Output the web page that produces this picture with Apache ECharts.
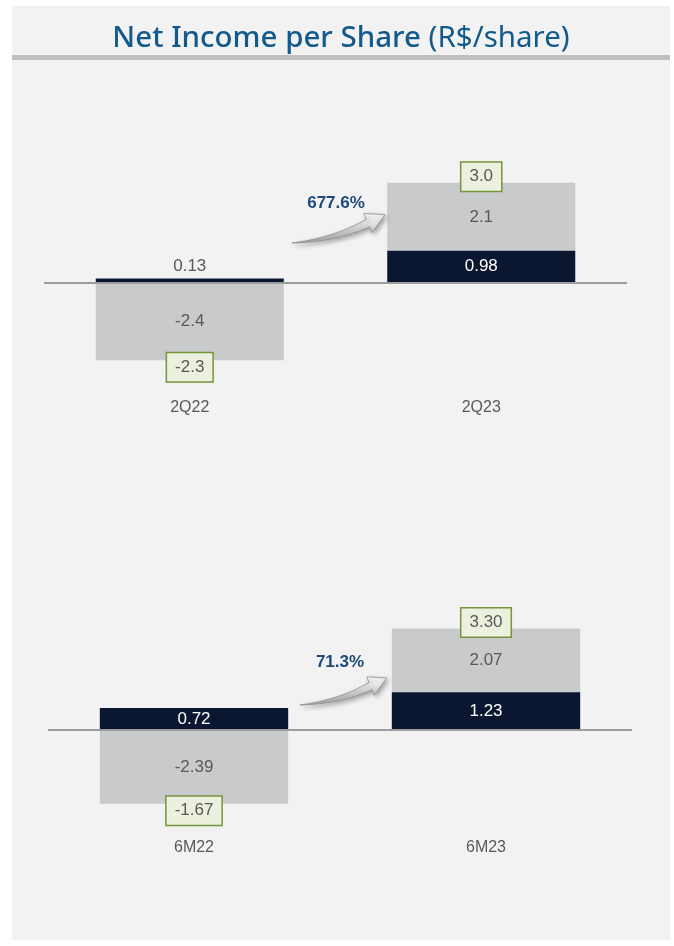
<!DOCTYPE html>
<html>
<head>
<meta charset="utf-8">
<script src="https://cdn.jsdelivr.net/npm/echarts@6/dist/echarts.min.js"></script>
<style>
  html, body { margin: 0; padding: 0; background: #ffffff; }
  #panel { position: absolute; left: 12px; top: 6px; width: 658px; height: 934px; background: #f2f2f2; }
  #main { position: absolute; left: 0; top: 0; width: 674px; height: 946px; }
</style>
</head>
<body>
<div id="panel"></div>
<div id="main"></div>
<script>
// ---- Data (top chart: quarter) ----
const categoriesQ = ['2Q22', '2Q23'];
const netIncomeQ = [0.13, 0.98];     // dark segment
const otherQ = [-2.4, 2.1];          // gray segment
const totalQ = [-2.3, 3.0];          // boxed totals
const growthQ = '677.6%';

// ---- Data (bottom chart: semester) ----
const categoriesS = ['6M22', '6M23'];
const netIncomeS = [0.72, 1.23];
const otherS = [-2.39, 2.07];
const totalS = [-1.67, 3.30];
const growthS = '71.3%';

const DARK = '#0b1730';
const GRAY = '#c9cacc';
const TXT = '#595959';
const NUMFONT = "'Liberation Sans Narrow', 'Arial Narrow', 'Liberation Sans', Arial, sans-serif";

function stackEnd(dark, other, i, total) {
  let pos = 0, neg = 0;
  [dark[i], other[i]].forEach(v => { if (v >= 0) pos += v; else neg += v; });
  return total[i] < 0 ? neg : pos;
}

function makeSeries(gi, dark, other, total, decDark, decOther, decTotal) {
  return [
    {
      type: 'bar', xAxisIndex: gi, yAxisIndex: gi, stack: 's' + gi,
      barWidth: '64.5%',
      itemStyle: { color: DARK },
      data: dark.map(v => ({
        value: v,
        label: v < 0.4 ? { position: 'top', distance: 4, color: TXT } : {}
      })),
      label: {
        show: true, position: 'inside', color: '#ffffff',
        fontFamily: NUMFONT, fontSize: 17,
        formatter: p => p.value.toFixed(decDark)
      },
      markLine: {
        silent: true, symbol: 'none', animation: false,
        label: { show: false },
        lineStyle: { color: '#9c9c9c', width: 2, type: 'solid' },
        data: [{ yAxis: 0 }]
      },
      z: 2
    },
    {
      type: 'bar', xAxisIndex: gi, yAxisIndex: gi, stack: 's' + gi,
      barWidth: '64.5%',
      itemStyle: { color: GRAY },
      data: other,
      label: {
        show: true, position: 'inside', color: TXT,
        fontFamily: NUMFONT, fontSize: 17,
        formatter: p => p.value.toFixed(decOther)
      },
      z: 1
    },
    {
      type: 'scatter', xAxisIndex: gi, yAxisIndex: gi,
      symbol: 'circle', symbolSize: 2,
      itemStyle: { color: 'rgba(0,0,0,0)', opacity: 1 },
      data: total.map((t, i) => ({
        value: [i, stackEnd(dark, other, i, total)],
        label: { offset: [0, t < 0 ? 7 : -6] }
      })),
      label: {
        show: true, position: 'inside',
        fontFamily: NUMFONT, fontSize: 17, color: TXT,
        backgroundColor: '#ebf1de', borderColor: '#77933c', borderWidth: 1.5,
        padding: [6, 8, 5, 8],
        formatter: p => total[p.dataIndex].toFixed(decTotal)
      },
      z: 5
    }
  ];
}

// curved arrow outline (quadratic edges sampled into a polygon)
function quad(p0, c, p1, n) {
  const pts = [];
  for (let k = 0; k <= n; k++) {
    const t = k / n, u = 1 - t;
    pts.push([u * u * p0[0] + 2 * u * t * c[0] + t * t * p1[0], u * u * p0[1] + 2 * u * t * c[1] + t * t * p1[1]]);
  }
  return pts;
}
function arrow(x, y, sx, sy) {
  const upper = quad([0, 0], [42, -5], [74.4, -22.6], 24);
  const lower = quad([77.6, -15.4], [44, -1], [0, 0], 24);
  const pts = upper.concat([[71.9, -28.1], [93, -27], [80.1, -9.9]], lower)
    .map(p => [x + p[0] * sx, y + p[1] * sy]);
  return {
    type: 'polygon', z: 10,
    shape: { points: pts },
    style: {
      fill: {
        type: 'linear', x: 0, y: 0, x2: 0, y2: 1,
        colorStops: [{ offset: 0, color: '#ffffff' }, { offset: 1, color: '#a9a9a9' }]
      },
      stroke: '#8f8f8f', lineWidth: 0.8,
      shadowBlur: 5, shadowColor: 'rgba(0,0,0,0.35)', shadowOffsetX: 2, shadowOffsetY: 2
    }
  };
}

const chart = echarts.init(document.getElementById('main'), null, { renderer: 'canvas' });

const option = {
  backgroundColor: 'transparent',
  animation: false,
  grid: [
    { left: 44, width: 583, top: 153, height: 243 },
    { left: 48, width: 584, top: 607, height: 231 }
  ],
  xAxis: [
    {
      gridIndex: 0, type: 'category', data: categoriesQ,
      axisLine: { show: false }, axisTick: { show: false },
      axisLabel: { margin: 4, color: TXT, fontSize: 16, fontFamily: NUMFONT }
    },
    {
      gridIndex: 1, type: 'category', data: categoriesS,
      axisLine: { show: false }, axisTick: { show: false },
      axisLabel: { margin: 2, color: TXT, fontSize: 16, fontFamily: NUMFONT }
    }
  ],
  yAxis: [
    { gridIndex: 0, type: 'value', min: -3.5, max: 4, show: false, splitLine: { show: false } },
    { gridIndex: 1, type: 'value', min: -3.5, max: 4, show: false, splitLine: { show: false } }
  ],
  series: [
    ...makeSeries(0, netIncomeQ, otherQ, totalQ, 2, 1, 1),
    ...makeSeries(1, netIncomeS, otherS, totalS, 2, 2, 2)
  ],
  graphic: [
    { type: 'rect', shape: { x: 12, y: 55, width: 658, height: 5 }, style: { fill: '#bfbfbf' }, z: 1 },
    {
      type: 'text', x: 341, y: 39, z: 10,
      style: {
        text: '{a|Net Income per Share}{b| (R$/share)}',
        align: 'center', verticalAlign: 'middle',
        rich: {
          a: { fontFamily: "'Noto Sans', 'Open Sans', sans-serif", fontSize: 29.5, fontWeight: 500, fill: '#125a8c' },
          b: { fontFamily: "'Noto Sans', 'Open Sans', sans-serif", fontSize: 29.5, fontWeight: 400, fill: '#125a8c' }
        }
      }
    },
    {
      type: 'text', x: 336, y: 203, z: 10,
      style: { text: growthQ, align: 'center', verticalAlign: 'middle', fontFamily: NUMFONT, fontSize: 17, fontWeight: 'bold', fill: '#1b4a7a' }
    },
    {
      type: 'text', x: 340, y: 662, z: 10,
      style: { text: growthS, align: 'center', verticalAlign: 'middle', fontFamily: NUMFONT, fontSize: 17, fontWeight: 'bold', fill: '#1b4a7a' }
    },
    arrow(292, 243, 1.0, 1.05),
    arrow(300, 705, 0.93, 1.0)
  ]
};

chart.setOption(option);
</script>
</body>
</html>
